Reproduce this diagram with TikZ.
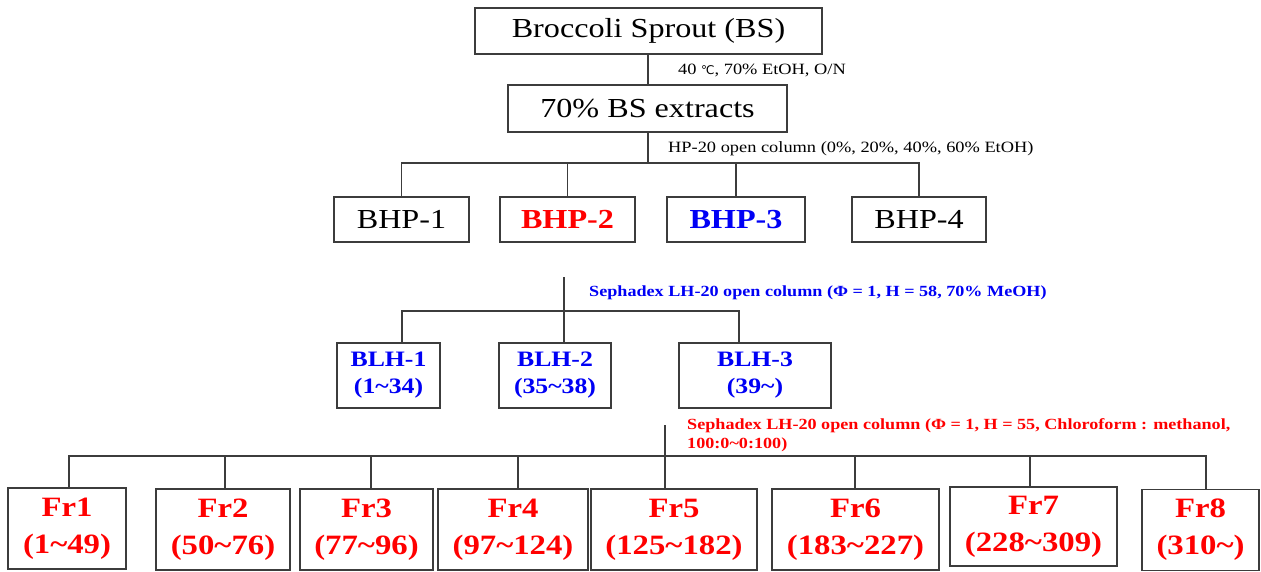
\documentclass[tikz,border=0pt]{standalone}
\usepackage{fontspec}
\setmainfont{Liberation Serif}[FakeStretch=1.17]
\newfontfamily\symfont{DejaVu Sans}
\definecolor{fred}{RGB}{255,0,0}
\definecolor{fblue}{RGB}{0,0,245}
\definecolor{lgray}{RGB}{60,60,60}
\begin{document}
\begin{tikzpicture}[x=1pt,y=-1pt,
  box/.style={draw=lgray,line width=1.2pt,inner sep=0pt,align=center},
  big/.style={font=\fontsize{27.5}{30}\selectfont},
  blh/.style={box,text=fblue,font=\fontsize{22}{27}\selectfont\bfseries,minimum height=65pt},
  frb/.style={box,text=fred,font=\fontsize{28}{37}\selectfont\bfseries,minimum height=81pt},
  conn/.style={draw=lgray,line width=1.2pt},
  small/.style={inner sep=0pt,anchor=west,font=\fontsize{15.7}{18}\selectfont}]
\useasboundingbox (0,0) rectangle (1261,572);
% top
\node[box,big,minimum width=347pt,minimum height=46pt] (bs) at (648.5,31) {Broccoli Sprout (BS)};
\node[box,big,minimum width=279pt,minimum height=47pt] (ext) at (647.5,108.5) {70\% BS extracts};
\draw[conn] (bs.south -| 648,0) -- (648,85);
\node[small] (l1) at (678,70) {40 {\symfont\fontsize{12}{13}\selectfont ℃}, 70\% EtOH, O/N};
\node[small] (l2) at (668,149) {HP-20 open column (0\%, 20\%, 40\%, 60\% EtOH)};
% BHP
\coordinate (hpbus) at (648,163);
\node[box,big,minimum width=135pt,minimum height=45pt] (bhp1) at (401.5,219.5) {BHP-1};
\node[box,big,minimum width=135pt,minimum height=45pt,text=fred,font=\fontsize{27.5}{30}\selectfont\bfseries] (bhp2) at (567.5,219.5) {BHP-2};
\node[box,big,minimum width=138pt,minimum height=45pt,text=fblue,font=\fontsize{27.5}{30}\selectfont\bfseries] (bhp3) at (736,219.5) {BHP-3};
\node[box,big,minimum width=134pt,minimum height=45pt] (bhp4) at (919,219.5) {BHP-4};
\draw[conn] (ext.south -| hpbus) -- (hpbus);
\draw[conn] (bhp1.north) |- (hpbus) -| (bhp4.north);
\draw[conn] (bhp2.north) -- (bhp2.north |- hpbus);
\draw[conn] (bhp3.north) -- (bhp3.north |- hpbus);
% BLH
\node[small,text=fblue,font=\fontsize{15.5}{18}\selectfont\bfseries] (l3) at (589,293) {Sephadex LH-20 open column (Φ = 1, H = 58, 70\% MeOH)};
\node[blh,minimum width=103pt] (blh1) at (388.5,375.5) {BLH-1\\(1\textasciitilde34)};
\node[blh,minimum width=112pt] (blh2) at (555,375.5) {BLH-2\\(35\textasciitilde38)};
\node[blh,minimum width=152pt] (blh3) at (755,375.5) {BLH-3\\(39\textasciitilde)};
\coordinate (s1top) at (564,277);
\coordinate (b1) at (402,311);
\coordinate (b3) at (739,311);
\draw[conn] (s1top) -- (s1top |- blh2.north);
\draw[conn] (b1 |- blh1.north) -- (b1) -- (b3) -- (b3 |- blh3.north);
% Fr
\node[small,text=fred,font=\fontsize{15.5}{19}\selectfont\bfseries,align=left] (l4) at (687,435) {Sephadex LH-20 open column (Φ = 1, H = 55, Chloroform : methanol,\\100:0\textasciitilde0:100)};
\node[frb,minimum width=118pt] (fr1) at (67,528.5) {Fr1\\(1\textasciitilde49)};
\node[frb,minimum width=134pt] (fr2) at (223,529.5) {Fr2\\(50\textasciitilde76)};
\node[frb,minimum width=133pt] (fr3) at (366.5,529.5) {Fr3\\(77\textasciitilde96)};
\node[frb,minimum width=150pt] (fr4) at (513,529.5) {Fr4\\(97\textasciitilde124)};
\node[frb,minimum width=166pt] (fr5) at (674,529.5) {Fr5\\(125\textasciitilde182)};
\node[frb,minimum width=167pt] (fr6) at (855.5,529.5) {Fr6\\(183\textasciitilde227)};
\node[frb,minimum width=167pt,minimum height=79pt] (fr7) at (1033.5,526.5) {Fr7\\(228\textasciitilde309)};
\node[frb,minimum width=117pt] (fr8) at (1200.5,530) {Fr8\\(310\textasciitilde)};
\coordinate (s2top) at (665,425);
\draw[conn] (s2top) -- (s2top |- fr5.north);
\coordinate (f1) at (69,456);
\coordinate (f8) at (1206,456);
\draw[conn] (f1 |- fr1.north) -- (f1) -- (f8) -- (f8 |- fr8.north);
\foreach \xx/\nn in {225/fr2,371/fr3,518/fr4,855/fr6,1030/fr7}
  \draw[conn] (\xx,456) -- (\xx,0 |- \nn.north);
\end{tikzpicture}
\end{document}
